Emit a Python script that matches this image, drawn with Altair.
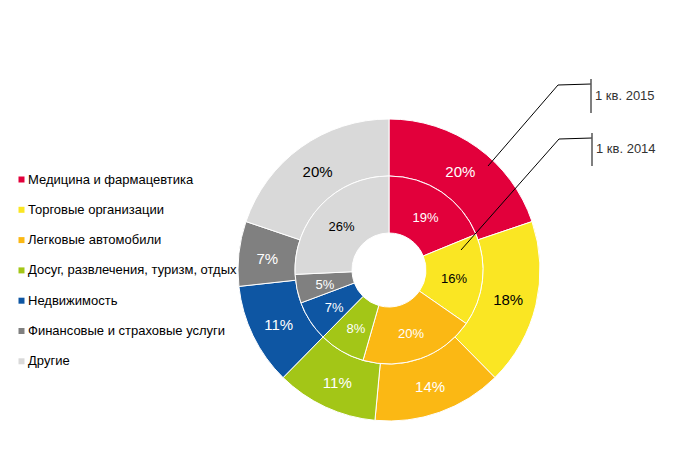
import altair as alt
import pandas as pd

categories = [
    "Медицина и фармацевтика",
    "Торговые организации",
    "Легковые автомобили",
    "Досуг, развлечения, туризм, отдых",
    "Недвижимость",
    "Финансовые и страховые услуги",
    "Другие",
]
share_2015 = [20, 18, 14, 11, 11, 7, 20]   # outer ring, 1 кв. 2015
share_2014 = [19, 16, 20, 8, 7, 5, 26]     # inner ring, 1 кв. 2014
colors = ["#E2003B", "#FAE623", "#FBB814", "#A3C617", "#0E56A3", "#808080", "#D9D9D9"]
label_colors = ["white", "black", "white", "white", "white", "white", "black"]
series_labels = ["1 кв. 2015", "1 кв. 2014"]

FONT = "Liberation Sans"


def frame(vals):
    return pd.DataFrame({
        "cat": categories,
        "val": vals,
        "ord": list(range(len(vals))),
        "label": [f"{v}%" for v in vals],
        "tc": label_colors,
    })


outer = frame(share_2015)
inner = frame(share_2014)

CX, CY = 381, 262
R_HOLE, R_MID, R_OUT = 37, 94, 151

color = alt.Color(
    "cat:N",
    scale=alt.Scale(domain=categories, range=colors),
    legend=alt.Legend(
        title=None, orient="none", legendX=7, legendY=165,
        symbolType="square", symbolSize=36, symbolStrokeWidth=0,
        labelFont=FONT, labelFontSize=13, labelColor="#000000",
        labelLimit=400, labelOffset=0, rowPadding=16.3, padding=0,
    ),
)


def ring(df, r_in, r_out, fsize):
    base = alt.Chart(df).encode(
        theta=alt.Theta("val:Q", stack=True),
        order=alt.Order("ord:Q"),
        x=alt.value(CX), y=alt.value(CY),
    )
    arcs = base.mark_arc(innerRadius=r_in, outerRadius=r_out, stroke="white",
                         strokeWidth=1).encode(color=color)
    text = base.mark_text(radius=(r_in + r_out) / 2, font=FONT, fontSize=fsize,
                          dy=2).encode(
        text="label:N", color=alt.Color("tc:N", scale=None))
    return arcs, text


oa, ot = ring(outer, R_MID, R_OUT, 15)
ia, it = ring(inner, R_HOLE, R_MID, 13)

one = pd.DataFrame({"k": [0]})


def seg(x1, y1, x2, y2, col="black", w=1):
    return alt.Chart(one).mark_rule(color=col, strokeWidth=w).encode(
        x=alt.value(x1), y=alt.value(y1), x2=alt.value(x2), y2=alt.value(y2))


def txt(s, x, y):
    return alt.Chart(one).mark_text(align="left", baseline="middle", font=FONT,
                                    fontSize=13, color="#333333").encode(
        x=alt.value(x), y=alt.value(y), text=alt.value(s))


ann = [
    seg(480, 158, 550, 77), seg(550, 77, 583, 76), seg(583, 71, 583, 105, "#555555", 1.5),
    txt(series_labels[0], 587, 88),
    seg(453, 242, 551, 131), seg(551, 131, 584, 130), seg(584, 125, 584, 158, "#555555", 1.5),
    txt(series_labels[1], 588, 141),
]

chart = alt.layer(oa, ia, ot, it, *ann).properties(
    width=684, height=458, padding=0,
    autosize=alt.AutoSizeParams(type="none"),
).configure_view(stroke=None)

chart.save("out.html", embed_options={"renderer": "svg", "actions": False})
